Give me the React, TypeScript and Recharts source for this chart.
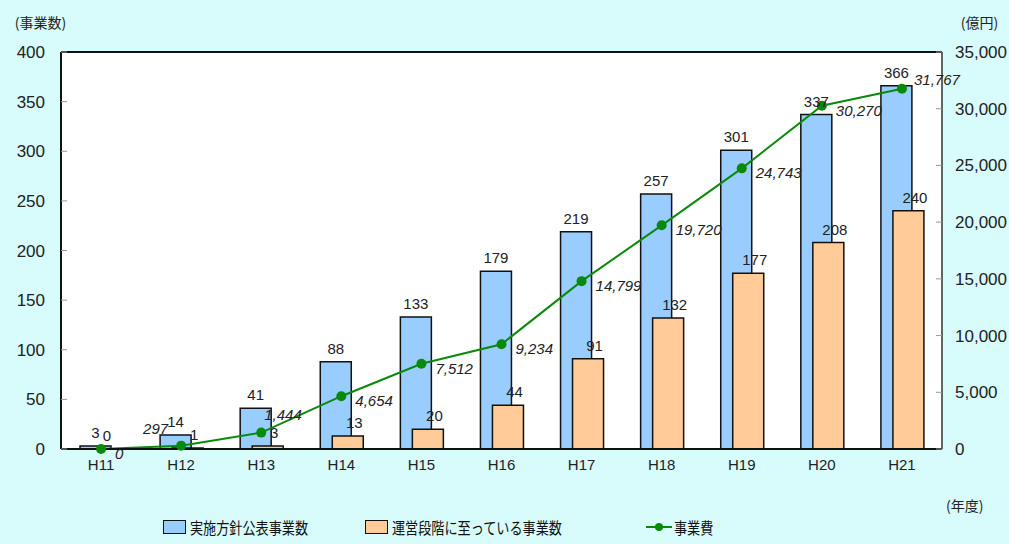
import { ComposedChart, Bar, Line, XAxis, YAxis, CartesianGrid, Legend, LabelList, ReferenceLine } from 'recharts';

const years = ['H11', 'H12', 'H13', 'H14', 'H15', 'H16', 'H17', 'H18', 'H19', 'H20', 'H21'];
const announced = [3, 14, 41, 88, 133, 179, 219, 257, 301, 337, 366];
const operating = [0, 1, 3, 13, 20, 44, 91, 132, 177, 208, 240];
const cost = [0, 297, 1444, 4654, 7512, 9234, 14799, 19720, 24743, 30270, 31767];
const leftTicks = [0, 50, 100, 150, 200, 250, 300, 350, 400];
const rightTicks = [0, 5000, 10000, 15000, 20000, 25000, 30000, 35000];

const data = years.map((y, i) => ({
    year: y,
    announced: announced[i],
    operating: operating[i],
    cost: cost[i],
}));

const numFont = '"Liberation Sans", Arial, sans-serif';
const jpFont = '"Noto Sans CJK JP", sans-serif';
const green = '#0a8a0a';

// blue labels sit over the bar centre
const BlueLabel = (props: any) => {
    const { x, y, width, value } = props;
    return (
        <text x={x + width / 2} y={y - 8} textAnchor="middle" fontSize={15} fontFamily={numFont} fill="#222">
            {value}
        </text>
    );
};

// orange labels ride on a hidden line at the category centre, nudged right of the orange bar
const OrangeLabel = (props: any) => {
    const { x, y, value, index } = props;
    return (
        <text x={x + (index === 0 ? 6 : 13)} y={y - 8} textAnchor="middle" fontSize={15} fontFamily={numFont} fill="#222">
            {value}
        </text>
    );
};

// a few cost labels were moved by hand in the original to dodge the bars
const costShift: Record<number, { dx: number; dy: number; anchor: string }> = {
    1: { dx: -13, dy: -12, anchor: 'end' },
    2: { dx: 3, dy: -13, anchor: 'start' },
    10: { dx: 12, dy: -4, anchor: 'start' },
};

const CostLabel = (props: any) => {
    const { x, y, value, index } = props;
    const s = costShift[index] || { dx: 14, dy: 10, anchor: 'start' };
    return (
        <text x={x + s.dx} y={y + s.dy} textAnchor={s.anchor as any} fontSize={15} fontStyle="italic" fontFamily={numFont} fill="#222">
            {Number(value).toLocaleString('en-US')}
        </text>
    );
};

const legendText = { position: 'absolute' as const, top: 0, fontSize: 16, transform: 'scaleX(0.82)', transformOrigin: 'left center', whiteSpace: 'nowrap' as const };

const LegendBox = () => (
    <div style={{ position: 'relative', width: 1009, height: 24, fontFamily: jpFont, color: '#111' }}>
        <div style={{ position: 'absolute', left: 163, top: 5, width: 21, height: 12, background: '#99ccff', border: '1.5px solid #111' }} />
        <span style={{ ...legendText, left: 190 }}>実施方針公表事業数</span>
        <div style={{ position: 'absolute', left: 365, top: 5, width: 21, height: 12, background: '#ffcc99', border: '1.5px solid #111' }} />
        <span style={{ ...legendText, left: 392 }}>運営段階に至っている事業数</span>
        <svg style={{ position: 'absolute', left: 646, top: 4 }} width={26} height={16}>
            <line x1={0} y1={8} x2={26} y2={8} stroke={green} strokeWidth={2} />
            <circle cx={13} cy={8} r={4} fill={green} />
        </svg>
        <span style={{ ...legendText, left: 674 }}>事業費</span>
    </div>
);

const App = () => {
    return (
        <div style={{ position: 'absolute', left: 0, top: 0, width: 1009, height: 544, background: '#d8fbfc' }}>
            <ComposedChart
                width={1009}
                height={544}
                data={data}
                margin={{ top: 52, right: 0, left: 0, bottom: 5 }}
                barSize={31}
                barGap={-19}
            >
                <CartesianGrid yAxisId="left" fill="#fff" horizontal={false} vertical={false} />
                <XAxis
                    dataKey="year"
                    height={66}
                    tickSize={0}
                    tickMargin={10}
                    axisLine={{ stroke: '#111', strokeWidth: 2 }}
                    tick={{ fontSize: 15, fontFamily: numFont, fill: '#222' }}
                    label={{ value: '(年度)', position: 'right', offset: 4, dy: 24, fontSize: 14, fontFamily: jpFont, fill: '#222' }}
                />
                <YAxis
                    yAxisId="left"
                    width={61}
                    domain={[0, 400]}
                    ticks={leftTicks}
                    interval={0}
                    tickSize={-6}
                    tickMargin={22}
                    tickLine={{ stroke: '#999' }}
                    axisLine={{ stroke: '#111', strokeWidth: 2 }}
                    tick={{ fontSize: 17, fontFamily: numFont, fill: '#222' }}
                    label={{ value: '(事業数)', position: 'top', offset: 24, dx: 10, fontSize: 14, fontFamily: jpFont, fill: '#222' }}
                />
                <YAxis
                    yAxisId="right"
                    orientation="right"
                    width={67}
                    domain={[0, 35000]}
                    ticks={rightTicks}
                    interval={0}
                    tickSize={-6}
                    tickMargin={19}
                    tickLine={{ stroke: '#999' }}
                    tickFormatter={(v: number) => v.toLocaleString('en-US')}
                    axisLine={{ stroke: '#333', strokeWidth: 1.5 }}
                    tick={{ fontSize: 17, fontFamily: numFont, fill: '#222' }}
                    label={{ value: '(億円)', position: 'top', offset: 24, dx: 4, fontSize: 14, fontFamily: jpFont, fill: '#222' }}
                />
                <ReferenceLine yAxisId="left" y={400} stroke="#111" strokeWidth={2} />
                <Legend verticalAlign="bottom" content={<LegendBox />} wrapperStyle={{ left: 0, width: 1009, bottom: 5 }} />
                <Bar yAxisId="left" dataKey="announced" name="実施方針公表事業数" fill="#99ccff" stroke="#111" strokeWidth={1.5} isAnimationActive={false}>
                    <LabelList dataKey="announced" content={BlueLabel} />
                </Bar>
                <Bar yAxisId="left" dataKey="operating" name="運営段階に至っている事業数" fill="#ffcc99" stroke="#111" strokeWidth={1.5} isAnimationActive={false} />
                <Line
                    yAxisId="left"
                    dataKey="operating"
                    stroke="none"
                    dot={false}
                    activeDot={false}
                    legendType="none"
                    isAnimationActive={false}
                >
                    <LabelList dataKey="operating" content={OrangeLabel} />
                </Line>
                <Line
                    yAxisId="right"
                    type="linear"
                    dataKey="cost"
                    name="事業費"
                    stroke={green}
                    strokeWidth={2}
                    dot={{ r: 5, fill: green, stroke: green, strokeWidth: 0 }}
                    isAnimationActive={false}
                >
                    <LabelList dataKey="cost" content={CostLabel} />
                </Line>
            </ComposedChart>
        </div>
    );
};

export default App;
